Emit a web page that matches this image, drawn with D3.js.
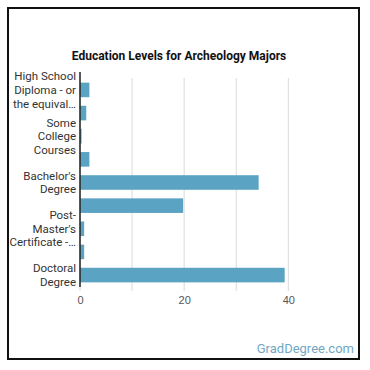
<!DOCTYPE html>
<html>
<head>
<meta charset="utf-8">
<script src="https://cdn.jsdelivr.net/npm/d3@7"></script>
<style>
  body { margin: 0; background: #fff; font-family: Roboto, "Noto Sans", sans-serif; }
  .grid line { stroke: #d9d9d9; }
  .xaxis text { fill: #555; font-size: 11px; }
</style>
</head>
<body>
<div id="chart"></div>
<script>
// data
var categories = ["High School Diploma - or the equivalent", "Post-Secondary Certificate", "Some College Courses",
    "Associate's Degree", "Bachelor's Degree", "Master's Degree", "Post-Master's Certificate - or the equivalent",
    "First Professional Degree", "Doctoral Degree"];
var values = [1.8, 1.2, 0.3, 1.8, 34.3, 19.8, 0.8, 0.8, 39.3];
// only every other category gets a label, wrapped as on the reference
var tickLabels = [["High School", "Diploma - or", "the equival\u2026"], null, ["Some", "College", "Courses"], null,
    ["Bachelor's", "Degree"], null, ["Post-", "Master's", "Certificate -\u2026"], null, ["Doctoral", "Degree"]];
var xTicks = [0, 10, 20, 30, 40];
var xLabels = [0, 20, 40];

var W = 370, H = 370;
var svg = d3.select("#chart").append("svg").attr("width", W).attr("height", H);

// frame
svg.append("rect").attr("x", 8).attr("y", 8).attr("width", 351).attr("height", 351)
    .attr("fill", "#fff").attr("stroke", "#111").attr("stroke-width", 2);

svg.append("text").attr("x", 179).attr("y", 60).attr("text-anchor", "middle")
    .style("font-size", "12px").style("font-weight", "bold").attr("fill", "#111")
    .text("Education Levels for Archeology Majors");

var x = d3.scaleLinear().domain([0, 48]).range([80, 330]);
var y = d3.scaleBand().domain(categories).range([78, 287]).paddingInner(0.37).paddingOuter(0.2);

// grid
svg.append("g").attr("class", "grid")
    .selectAll("line").data(xTicks).enter().append("line")
    .attr("x1", d => x(d)).attr("x2", d => x(d))
    .attr("y1", 78).attr("y2", 291);

// bars
svg.selectAll(".bar").data(categories).enter().append("rect")
    .attr("class", "bar")
    .attr("x", x(0))
    .attr("y", d => y(d))
    .attr("width", (d, i) => x(values[i]) - x(0))
    .attr("height", y.bandwidth())
    .attr("fill", "#5ba3c2");

// x axis labels
var xAxis = svg.append("g").attr("class", "xaxis")
    .attr("transform", "translate(0,287)")
    .call(d3.axisBottom(x).tickValues(xLabels).tickSize(0).tickPadding(9));
xAxis.select(".domain").remove();

// y axis line
svg.append("line").attr("x1", x(0)).attr("x2", x(0)).attr("y1", 72).attr("y2", 287)
    .attr("stroke", "#222").attr("stroke-width", 1.5);

// y labels
var lh = 13.6;
categories.forEach((c, i) => {
    var lines = tickLabels[i];
    if (!lines) return;
    var cy = y(c) + y.bandwidth() / 2;
    var t = svg.append("text").attr("text-anchor", "end").attr("fill", "#333")
        .style("font-size", "11.5px");
    lines.forEach((ln, k) => {
        t.append("tspan").attr("x", 76)
            .attr("y", cy + (k - (lines.length - 1) / 2) * lh + 4)
            .text(ln);
    });
});

svg.append("text").attr("x", 354).attr("y", 353).attr("text-anchor", "end")
    .attr("fill", "#6fa8c4").style("font-size", "13px").text("GradDegree.com");
</script>
</body>
</html>
